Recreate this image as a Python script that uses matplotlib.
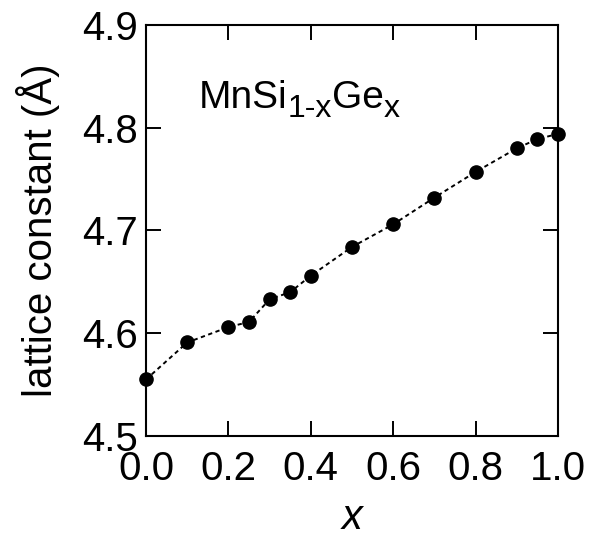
import matplotlib
matplotlib.use("Agg")
import matplotlib.pyplot as plt

plt.rcParams['font.family'] = ['Liberation Sans', 'DejaVu Sans']

x_vals = [0.0, 0.1, 0.2, 0.25, 0.3, 0.35, 0.4, 0.5, 0.6, 0.7, 0.8, 0.9, 0.95, 1.0]
lattice = [4.555, 4.591, 4.606, 4.611, 4.633, 4.640, 4.656, 4.684, 4.706, 4.732, 4.757, 4.780, 4.789, 4.794]
xticks = [0.0, 0.2, 0.4, 0.6, 0.8, 1.0]
yticks = [4.5, 4.6, 4.7, 4.8, 4.9]
label_pieces = [("MnSi", False), ("1-x", True), ("Ge", False), ("x", True)]

fig = plt.figure(figsize=(5.9, 5.38), dpi=100)
ax = fig.add_axes([146/590, 1-436/538, 412/590, 411/538])

ax.plot(x_vals, lattice, linestyle=(0, (2.2, 1.8)), color='black', linewidth=1.4,
        marker='o', markersize=9.5, markerfacecolor='black', markeredgecolor='black',
        clip_on=False, zorder=3)

ax.set_xlim(0.0, 1.0)
ax.set_ylim(4.5, 4.9)
ax.set_xticks(xticks)
ax.set_yticks(yticks)
ax.set_xticklabels([f"{v:.1f}" for v in xticks])
ax.set_yticklabels([f"{v:.1f}" for v in yticks])
ax.tick_params(direction='in', length=11, width=1.4, labelsize=29,
               top=True, right=True, color='black')
ax.tick_params(axis='x', pad=10)
ax.tick_params(axis='y', pad=6)
for s in ax.spines.values():
    s.set_linewidth(1.5)

ax.set_xlabel('x', fontsize=30, fontstyle='italic', labelpad=7)
ax.set_ylabel('lattice constant (Å)', fontsize=29, labelpad=16)

# compound label built from pieces with larger subscripts
fig.canvas.draw()
renderer = fig.canvas.get_renderer()
x_disp, y_disp = ax.transData.transform((0.128, 4.819))
inv = fig.transFigure.inverted()
for txt, sub in label_pieces:
    size = 23 if sub else 28
    dy = -9 if sub else 0
    fx, fy = inv.transform((x_disp, y_disp + dy))
    t = fig.text(fx, fy, txt, fontsize=size, ha='left', va='baseline')
    bb = t.get_window_extent(renderer)
    x_disp = bb.x1

fig.savefig('out.png', dpi=100, facecolor='white')
